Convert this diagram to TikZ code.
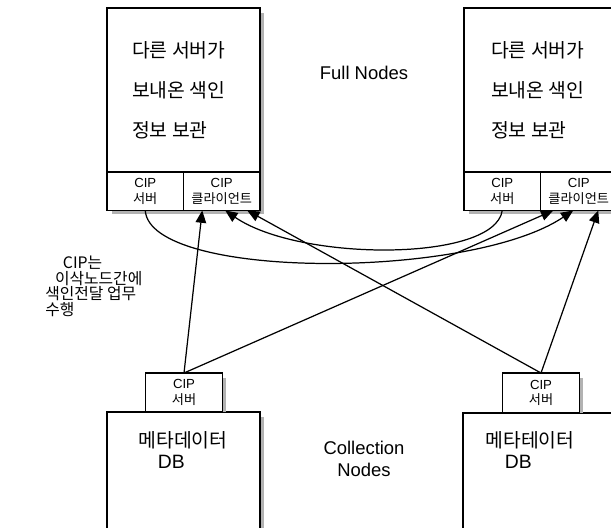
\documentclass[tikz,border=0pt]{standalone}
\usepackage{fontspec}
\setmainfont{Liberation Sans}
\newfontfamily\kr{Noto Sans CJK KR}
\usetikzlibrary{positioning,arrows.meta}

\begin{document}
\begin{tikzpicture}[x=0.02cm,y=-0.02cm,
	box/.style={draw,line width=0.8pt,fill=white,inner sep=0pt,outer sep=0pt},
	cell/.style={box,minimum width=1.53cm,minimum height=0.77cm,align=center,font=\fontsize{7.5}{9}\selectfont},
	big/.style={box,minimum width=3.06cm,anchor=north west},
	boxshade/.style={fill=gray!60},
	link/.style={line width=0.7pt,-{Triangle[length=7pt,width=6pt]}}]
	\useasboundingbox (0,0) rectangle (611,527);
	\clip (0,0) rectangle (611,527);
	\node[big,minimum height=3.28cm] (fullL) at (107,8) {};
	\node[big,minimum height=3.28cm] (fullR) at (464,8) {};
	\node[cell,below right=0pt and 0pt of fullL.south west] (srvL) {CIP\\\kr 서버};
	\node[cell,right=0pt of srvL] (cliL) {CIP\\\kr 클라이언트};
	\node[cell,below right=0pt and 0pt of fullR.south west] (srvR) {CIP\\\kr 서버};
	\node[cell,right=0pt of srvR] (cliR) {CIP\\\kr 클라이언트};
	\fill[boxshade] ([shift={(0.4pt,-3pt)}]fullL.north east) rectangle ([shift={(2.2pt,-2.2pt)}]cliL.south east);
	\fill[boxshade] ([shift={(3pt,-0.4pt)}]srvL.south west) rectangle ([shift={(2.2pt,-2.2pt)}]cliL.south east);
	\fill[boxshade] ([shift={(3pt,-0.4pt)}]srvR.south west) rectangle ([shift={(2.2pt,-2.2pt)}]cliR.south east);
	\node[anchor=west,align=left,font=\kr\fontsize{11}{22.7}\selectfont] (infoL) at (126,90) {다른 서버가\\보내온 색인\\정보 보관};
	\node[anchor=west,align=left,font=\kr\fontsize{11}{22.7}\selectfont] (infoR) at (485,90) {다른 서버가\\보내온 색인\\정보 보관};
	\node[font=\fontsize{10.5}{12}\selectfont] (fulltxt) at (364,73) {Full Nodes};
	\node[cell,minimum height=0.78cm] (dbsrvL) at (184,392.5) {CIP\\\kr 서버};
	\node[big,minimum height=2.4cm] (dbL) at (107,412) {};
	\node[cell,minimum height=0.8cm] (dbsrvR) at (541,393) {CIP\\\kr 서버};
	\node[big,minimum height=2.4cm] (dbR) at (463,413) {};
	\fill[boxshade] ([shift={(0.4pt,-3pt)}]dbsrvL.north east) rectangle ([xshift=2.2pt]dbsrvL.south east);
	\fill[boxshade] ([shift={(0.4pt,-3pt)}]dbL.north east) rectangle ([xshift=2.2pt]dbL.south east);
	\fill[boxshade] ([shift={(0.4pt,-3pt)}]dbsrvR.north east) rectangle ([xshift=2.2pt]dbsrvR.south east);
	\node[align=left,font=\fontsize{11}{11.5}\selectfont] (metaL) at (183,450) {{\kr 메타데이터}\\\hspace{11pt}DB};
	\node[align=left,font=\fontsize{11}{11.5}\selectfont] (metaR) at (530,450) {{\kr 메타테이터}\\\hspace{11pt}DB};
	\node[align=center,font=\fontsize{10.5}{12.5}\selectfont] (coltxt) at (364,459) {Collection\\Nodes};
	\node[anchor=north west,inner sep=0pt,align=left,font=\kr\fontsize{9}{8.8}\selectfont] (note) at (45,256) {\hspace{10pt}CIP는\\\hspace{5.5pt}이삭노드간에\\색인전달 업무\\수행};
	\draw[link] (srvL.south) .. controls (150,280) and (470,280) .. ([xshift=-0.11cm]cliR.south);
	\draw[link] (srvR.south) .. controls (495,262) and (300,262) .. ([xshift=0.07cm]cliL.south);
	\draw[link] (dbsrvL.north) -- ([xshift=-0.39cm]cliL.south);
	\draw[link] (dbsrvL.north) -- ([xshift=-0.51cm]cliR.south);
	\draw[link] (dbsrvR.north) -- ([xshift=0.51cm]cliL.south);
	\draw[link] (dbsrvR.north) -- ([xshift=0.39cm]cliR.south);
\end{tikzpicture}
\end{document}
